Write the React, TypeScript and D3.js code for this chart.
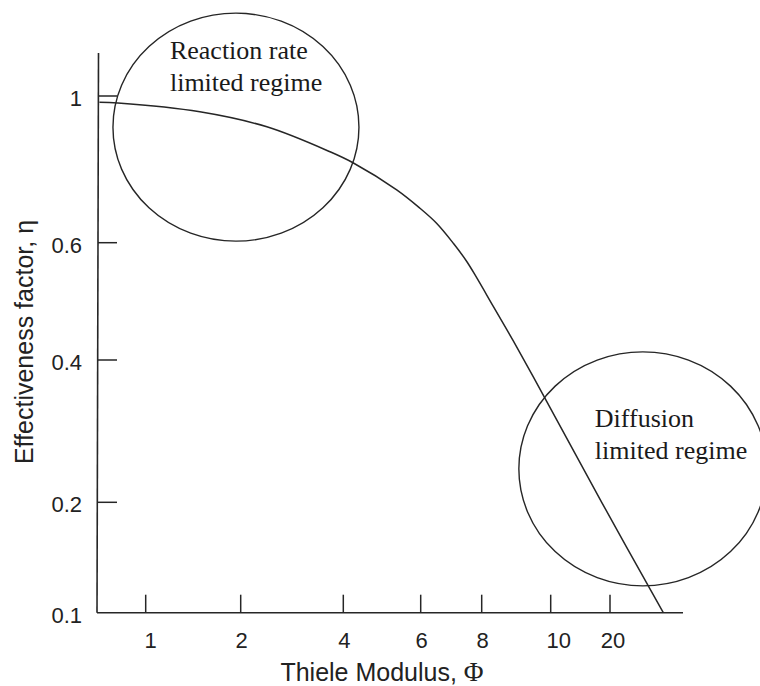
import { useEffect, useRef } from "react";
import * as d3 from "d3";

// schematic axes: hand-placed, non-uniform tick spacing
const xTicks = [1, 2, 4, 6, 8, 10, 20];
const yTicks = [0.1, 0.2, 0.4, 0.6, 1];

// effectiveness factor curve
const phi = [0.05, 0.43, 1.57, 2.51, 3.74, 4.25, 5.38, 5.98, 6.52, 7.07, 7.51, 7.84, 8.34, 8.92, 9.5, 18.6, 27.3];
const eta = [0.983, 0.981, 0.957, 0.916, 0.848, 0.818, 0.744, 0.694, 0.653, 0.599, 0.568, 0.54, 0.491, 0.432, 0.376, 0.2, 0.1];

// regime annotations (centre in data units)
const regimes = [
  { lines: ["Reaction rate", "limited regime"], phi: 1.95, eta: 0.915, rx: 123, ry: 114, dx: -66, dy: -68 },
  { lines: ["Diffusion", "limited regime"], phi: 24.5, eta: 0.247, rx: 124, ry: 117, dx: -48, dy: -42 },
];

const W = 760;
const H = 686;
const sans = "'Liberation Sans', Arial, sans-serif";
const serif = "'Liberation Serif', 'Times New Roman', serif";
const ink = "#262626";

export default function App() {
  const svgRef = useRef<SVGSVGElement>(null);

  useEffect(() => {
    if (!svgRef.current) return;
    const svg = d3.select(svgRef.current);
    svg.selectAll("*").remove();

    const x = d3
      .scaleLinear()
      .domain([0, 1, 2, 4, 6, 8, 10, 20, 30])
      .range([97, 145.7, 240.7, 343.3, 420.7, 481.7, 550.7, 610, 683]);
    const y = d3
      .scaleLinear()
      .domain([0.1, 0.2, 0.4, 0.6, 1, 1.117])
      .range([612.7, 502.3, 360, 242.7, 96, 53]);

    const x0 = x(0);
    const y0 = y(0.1);

    // axes
    svg
      .append("line")
      .attr("x1", x0)
      .attr("x2", x(30))
      .attr("y1", y0)
      .attr("y2", y0)
      .attr("stroke", ink)
      .attr("stroke-width", 1.6);
    svg
      .append("line")
      .attr("x1", x0)
      .attr("x2", x0 + 1.5)
      .attr("y1", y0)
      .attr("y2", y(1.117))
      .attr("stroke", ink)
      .attr("stroke-width", 1.6);

    const xt = svg.append("g").selectAll("g").data(xTicks).join("g");
    xt.append("line")
      .attr("x1", (d) => x(d))
      .attr("x2", (d) => x(d))
      .attr("y1", y0)
      .attr("y2", y0 - 18)
      .attr("stroke", ink)
      .attr("stroke-width", 1.5);
    xt.append("text")
      .attr("x", (d) => x(d) + (d === 1 ? 5 : d === 10 ? 8 : d === 20 ? 3 : 1))
      .attr("y", 648)
      .attr("text-anchor", "middle")
      .attr("font-family", sans)
      .attr("font-size", 22)
      .attr("fill", "#222")
      .text((d) => d);

    const yt = svg.append("g").selectAll("g").data(yTicks.filter((d) => d > 0.1)).join("g");
    yt.append("line")
      .attr("x1", x0 + 1)
      .attr("x2", x0 + 20)
      .attr("y1", (d) => y(d))
      .attr("y2", (d) => y(d))
      .attr("stroke", ink)
      .attr("stroke-width", 1.5);
    svg
      .append("g")
      .selectAll("text")
      .data(yTicks)
      .join("text")
      .attr("x", 82)
      .attr("y", (d) => y(d) + 10)
      .attr("text-anchor", "end")
      .attr("font-family", sans)
      .attr("font-size", 22)
      .attr("fill", "#222")
      .text((d) => d);

    // axis titles
    const xTitle = svg
      .append("text")
      .attr("x", 382)
      .attr("y", 681)
      .attr("text-anchor", "middle")
      .attr("font-family", sans)
      .attr("font-size", 25)
      .attr("fill", "#222");
    xTitle.append("tspan").text("Thiele Modulus, ");
    xTitle.append("tspan").attr("font-family", serif).attr("font-size", 27).text("Φ");
    svg
      .append("text")
      .attr("transform", "translate(33,342) rotate(-90)")
      .attr("text-anchor", "middle")
      .attr("font-family", sans)
      .attr("font-size", 25)
      .attr("fill", "#222")
      .text("Effectiveness factor, η");

    // curve
    const pts = phi.map((p, i) => [p, eta[i]] as [number, number]);
    svg
      .append("path")
      .datum(pts)
      .attr("fill", "none")
      .attr("stroke", ink)
      .attr("stroke-width", 1.5)
      .attr(
        "d",
        d3
          .line<[number, number]>()
          .x((d) => x(d[0]))
          .y((d) => y(d[1]))
          .curve(d3.curveCatmullRom.alpha(0.5)),
      );

    // regime ellipses and labels
    const reg = svg.append("g").selectAll("g").data(regimes).join("g");
    reg
      .append("ellipse")
      .attr("cx", (d) => x(d.phi))
      .attr("cy", (d) => y(d.eta))
      .attr("rx", (d) => d.rx)
      .attr("ry", (d) => d.ry)
      .attr("fill", "none")
      .attr("stroke", ink)
      .attr("stroke-width", 1.4);
    reg.each(function (d) {
      const t = d3
        .select(this)
        .append("text")
        .attr("font-family", serif)
        .attr("font-size", 26)
        .attr("fill", "#1a1a1a");
      d.lines.forEach((ln, i) => {
        t.append("tspan")
          .attr("x", x(d.phi) + d.dx)
          .attr("y", y(d.eta) + d.dy + i * 32)
          .text(ln);
      });
    });
  }, []);

  return (
    <svg
      ref={svgRef}
      width={W}
      height={H}
      viewBox={`0 0 ${W} ${H}`}
      style={{ position: "absolute", left: 0, top: 0, background: "#fff" }}
    />
  );
}
